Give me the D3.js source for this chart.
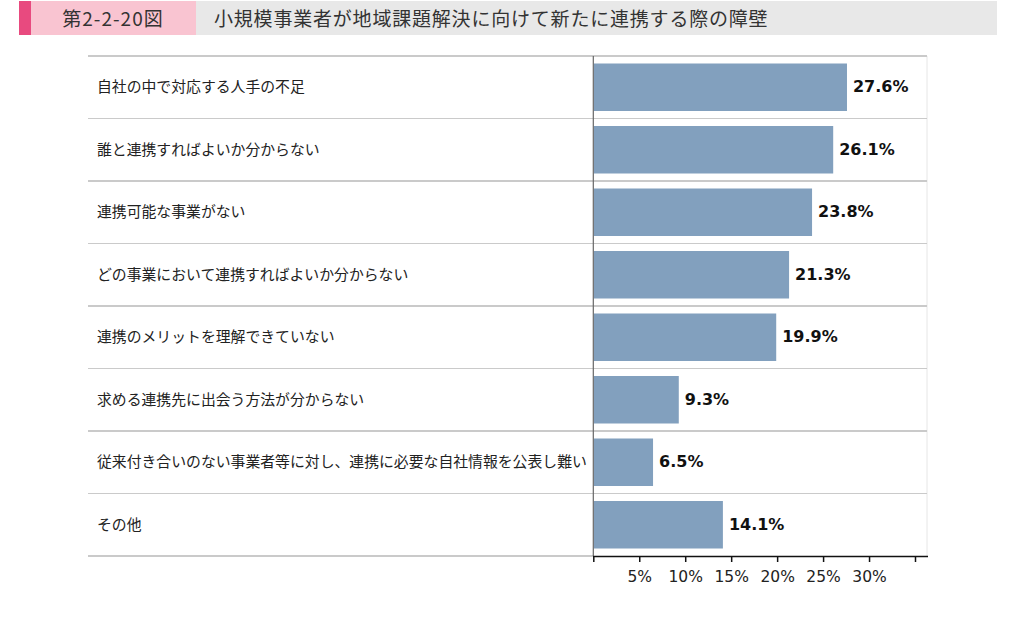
<!DOCTYPE html>
<html><head><meta charset="utf-8">
<script src="https://cdn.jsdelivr.net/npm/d3@7"></script>
<style>
html,body{margin:0;padding:0;background:#fff;}
svg{display:block;}
</style></head>
<body>
<svg id="chart" width="1012" height="621"></svg>
<script>
const figureNumber = "第2-2-20図";
const title = "小規模事業者が地域課題解決に向けて新たに連携する際の障壁";
const categories = [
  "自社の中で対応する人手の不足",
  "誰と連携すればよいか分からない",
  "連携可能な事業がない",
  "どの事業において連携すればよいか分からない",
  "連携のメリットを理解できていない",
  "求める連携先に出会う方法が分からない",
  "従来付き合いのない事業者等に対し、連携に必要な自社情報を公表し難い",
  "その他"
];
const values = [27.6, 26.1, 23.8, 21.3, 19.9, 9.3, 6.5, 14.1];
const tickValues = [0, 5, 10, 15, 20, 25, 30, 35];
const tickLabels = ["", "5%", "10%", "15%", "20%", "25%", "30%", ""];

const svg = d3.select("#chart");
const jp = "'Noto Sans CJK JP','Noto Sans',sans-serif";

// Header
svg.append("rect").attr("x",19).attr("y",1).attr("width",978).attr("height",34).attr("fill","#e8e8e8");
svg.append("rect").attr("x",31).attr("y",1).attr("width",165).attr("height",34).attr("fill","#f9c4d1");
svg.append("rect").attr("x",19).attr("y",1).attr("width",12).attr("height",34).attr("fill","#e84a7f");
svg.append("text").attr("x",113).attr("y",17).attr("text-anchor","middle").attr("dominant-baseline","central")
  .attr("font-family",jp).attr("font-size",19).attr("letter-spacing","1px").attr("fill","#333").text(figureNumber);
svg.append("text").attr("x",214).attr("y",17).attr("dominant-baseline","central")
  .attr("font-family",jp).attr("font-size",19).attr("letter-spacing","0.8px").attr("fill","#333").text(title);

// Layout
const plotTop = 56, plotBottom = 556, plotLeft = 88, axisX = 593.3, plotRight = 927;
const x = d3.scaleLinear().domain([0, 35]).range([axisX, 915]);
const y = d3.scaleBand().domain(categories).range([plotTop, plotBottom]).paddingInner(0.24).paddingOuter(0.12);
const step = y.step();

// right border of panel
svg.append("line").attr("x1",plotRight).attr("x2",plotRight).attr("y1",plotTop).attr("y2",plotBottom)
  .attr("stroke","#e6e6e6").attr("stroke-width",1);

// row separators
const seps = d3.range(categories.length + 1);
svg.append("g").selectAll("line").data(seps).join("line")
  .attr("x1", plotLeft).attr("x2", d => d === categories.length ? axisX : plotRight)
  .attr("y1", d => plotTop + d*step).attr("y2", d => plotTop + d*step)
  .attr("stroke", "#cacaca")
  .attr("stroke-width", d => d % 2 === 0 ? 2.2 : 1.2);

// bars
svg.append("g").selectAll("rect").data(values).join("rect")
  .attr("x", x(0)+0.5)
  .attr("y", (d,i) => y(categories[i]))
  .attr("width", d => x(d) - x(0) - 0.5)
  .attr("height", y.bandwidth())
  .attr("fill", "#82a0be");

// value labels
svg.append("g").selectAll("text").data(values).join("text")
  .attr("x", d => x(d) + 6)
  .attr("y", (d,i) => y(categories[i]) + y.bandwidth()/2 - 0.5)
  .attr("dominant-baseline","central")
  .attr("font-family","'DejaVu Sans',Verdana,sans-serif").attr("font-weight","bold")
  .attr("font-size",16).attr("fill","#111")
  .text(d => d.toFixed(1) + "%");

// category labels
svg.append("g").selectAll("text").data(categories).join("text")
  .attr("x", 97)
  .attr("y", d => y(d) + y.bandwidth()/2 - 1.5)
  .attr("dominant-baseline","central")
  .attr("font-family", jp).attr("font-size",14.85).attr("fill","#222")
  .text(d => d);

// vertical axis line
svg.append("line").attr("x1",axisX).attr("x2",axisX).attr("y1",plotTop).attr("y2",plotBottom)
  .attr("stroke","#666").attr("stroke-width",1.2);

// x axis
const axis = d3.axisBottom(x).tickValues(tickValues).tickSize(6).tickSizeOuter(0)
  .tickFormat((d,i) => tickLabels[i]);
const gx = svg.append("g").attr("transform", `translate(0,${plotBottom})`).call(axis);
gx.select(".domain").remove();
gx.append("line").attr("x1",axisX).attr("x2",plotRight+1).attr("y1",0.5).attr("y2",0.5)
  .attr("stroke","#111").attr("stroke-width",1.5);
gx.selectAll(".tick line").attr("stroke","#111").attr("stroke-width",1.5);
gx.selectAll(".tick text").attr("font-family","'DejaVu Sans',Verdana,sans-serif")
  .attr("font-size",15.5).attr("fill","#222").attr("y",15);
</script>
</body></html>
